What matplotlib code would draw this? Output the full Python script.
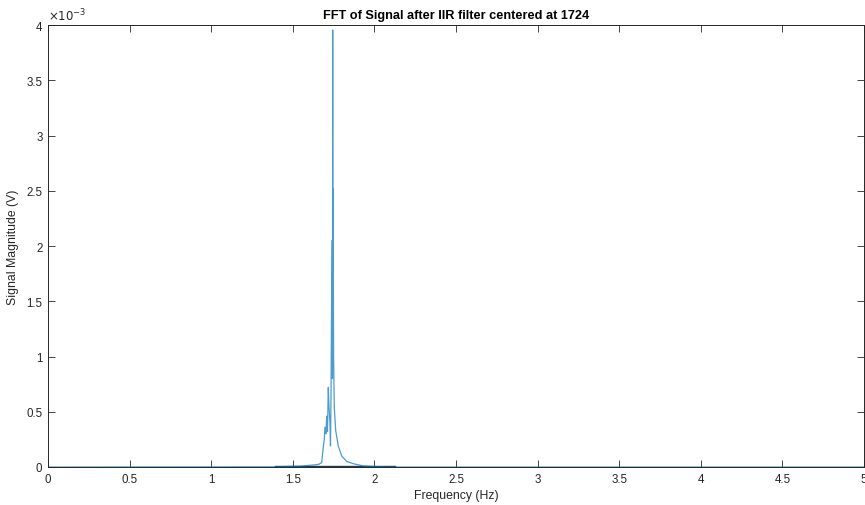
import matplotlib
matplotlib.use("Agg")
import matplotlib.pyplot as plt

plt.rcParams['font.family'] = ['Liberation Sans', 'DejaVu Sans']

# FFT magnitude (Hz, V)
freq_hz = [0, 14000, 15500, 16000, 16400, 16600, 16771, 16869, 16930, 16973,
           17030, 17077, 17126, 17175, 17218, 17279, 17310, 17340, 17400, 17430,
           17445, 17460, 17475, 17482, 17500, 17543, 17629, 17788, 17996, 18303,
           18707, 19301, 20000, 21000, 50000]
mag_mv = [0.0, 0.002, 0.008, 0.015, 0.02, 0.025, 0.04, 0.18, 0.25, 0.36,
          0.30, 0.46, 0.32, 0.72, 0.55, 0.39, 0.19, 0.60, 2.05, 0.8,
          3.955, 1.2, 2.52, 2.05, 1.0, 0.54, 0.33, 0.19, 0.10, 0.05,
          0.03, 0.01, 0.004, 0.0, 0.0]
mag_v = [m * 1e-3 for m in mag_mv]

# dense noise floor that renders darker near the passband
floor_hz = [13900, 16500, 18700, 21250]
floor_v = [0.00001, 0.00001, 0.00001, 0.00001]

x_ticks = [0, 0.5, 1, 1.5, 2, 2.5, 3, 3.5, 4, 4.5, 5]
y_ticks = [0, 0.5, 1, 1.5, 2, 2.5, 3, 3.5, 4]

axis_col = '#262626'

fig = plt.figure(figsize=(8.65, 5.06), dpi=100)
ax = fig.add_axes([0.0555, 0.0751, 0.9433, 0.8735])

ax.plot(floor_hz, floor_v, color='#1b3a5c', lw=1.0)
ax.plot(freq_hz, mag_v, color='#0072BD', lw=0.9, alpha=0.7)

ax.set_xlim(0, 50000)
ax.set_ylim(0, 0.004)
ax.set_xticks([t * 1e4 for t in x_ticks])
ax.set_xticklabels([f"{t:g}" for t in x_ticks])
ax.set_yticks([t * 1e-3 for t in y_ticks])
ax.set_yticklabels([f"{t:g}" for t in y_ticks])

ax.tick_params(direction='in', length=5, width=0.6, colors=axis_col,
               labelsize=8.3, top=True, right=True, pad=4)
for s in ax.spines.values():
    s.set_color(axis_col)
    s.set_linewidth(0.7)

ax.set_title("FFT of Signal after IIR filter centered at 1724",
             fontsize=9.2, fontweight='bold', color='black', pad=5)
ax.set_xlabel("Frequency (Hz)", fontsize=8.8, color=axis_col, labelpad=3)
ax.set_ylabel("Signal Magnitude (V)", fontsize=8.8, color=axis_col, labelpad=5)

ax.text(0.0, 1.004, r"$\times10^{-3}$", transform=ax.transAxes,
        ha='left', va='bottom', fontsize=8.5, color=axis_col)
ax.text(0.999, -0.045, r"$\times10^{4}$", transform=ax.transAxes,
        ha='left', va='top', fontsize=8.5, color=axis_col)

fig.savefig("out.png", dpi=100)
